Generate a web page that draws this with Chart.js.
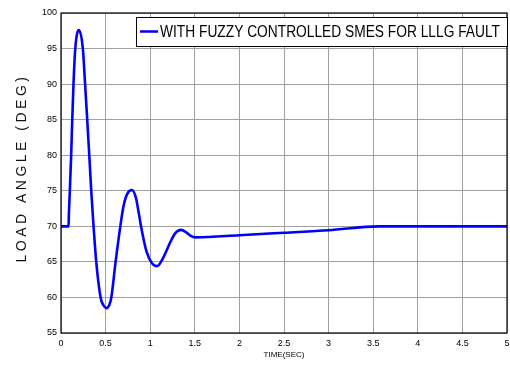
<!DOCTYPE html>
<html>
<head>
<meta charset="utf-8">
<script src="https://cdn.jsdelivr.net/npm/chart.js@4"></script>
<style>
  html, body { margin: 0; padding: 0; background: #fff; }
  #wrap { width: 510px; height: 365px; }
</style>
</head>
<body>
<div id="wrap"><canvas id="grafica-angulo"></canvas></div>
<script>
// valores
var tiempo = [0, 0.085, 0.088, 0.099, 0.114, 0.126, 0.14, 0.16, 0.20, 0.245, 0.27, 0.294, 0.317, 0.339, 0.365, 0.395, 0.444, 0.475, 0.508, 0.54, 0.564, 0.612, 0.665, 0.70, 0.74, 0.795, 0.84, 0.87, 0.90, 0.96, 1.02, 1.077, 1.13, 1.18, 1.23, 1.28, 1.343, 1.40, 1.45, 1.51, 2.0, 2.5, 3.0, 3.56, 4.0, 4.5, 5.0];
var angulo = [70, 70, 71.5, 75, 80, 85, 90, 95, 97.6, 95, 90, 85, 80, 75, 70, 65, 60, 58.9, 58.5, 58.9, 60, 65, 70, 72.8, 74.5, 75.1, 74, 72, 69.8, 66.4, 64.8, 64.4, 65.2, 66.5, 67.9, 69.0, 69.5, 69.2, 68.7, 68.45, 68.75, 69.1, 69.45, 70.0, 70, 70, 70];
var etiquetaSerie = "WITH FUZZY CONTROLLED SMES FOR LLLG FAULT";
var tituloY = "LOAD ANGLE (DEG)";
var tituloX = "TIME(SEC)";
var ticksX = [0, 0.5, 1, 1.5, 2, 2.5, 3, 3.5, 4, 4.5, 5];
var ticksY = [55, 60, 65, 70, 75, 80, 85, 90, 95, 100];

var fuenteAngosta = "'Liberation Sans Narrow', 'Arial Narrow', 'Liberation Sans', Arial, sans-serif";

var puntos = tiempo.map(function (t, i) { return { x: t, y: angulo[i] }; });

// marco, titulo Y y leyenda dibujados a mano
var extras = {
  id: "extras",
  afterDraw: function (chart) {
    var ctx = chart.ctx, a = chart.chartArea;
    ctx.save();
    ctx.strokeStyle = "#000";
    ctx.lineWidth = 1.2;
    ctx.strokeRect(a.left, a.top, a.right - a.left, a.bottom - a.top);

    // titulo del eje Y con letras espaciadas
    ctx.translate(22, (a.top + a.bottom) / 2 - 5);
    ctx.rotate(-Math.PI / 2);
    ctx.font = "14px 'Liberation Sans', Arial, sans-serif";
    ctx.letterSpacing = "3.5px";
    ctx.fillStyle = "#111";
    ctx.textAlign = "center";
    ctx.textBaseline = "middle";
    ctx.fillText(tituloY, 0, 0);
    ctx.restore();

    // leyenda
    ctx.save();
    var lx = 136, ly = 17, lw = 371, lh = 29;
    ctx.fillStyle = "#fff";
    ctx.fillRect(lx, ly, lw, lh);
    ctx.strokeStyle = "#000";
    ctx.lineWidth = 1;
    ctx.strokeRect(lx + 0.5, ly + 0.5, lw, lh);
    ctx.strokeStyle = "#0000ff";
    ctx.lineWidth = 2.5;
    ctx.beginPath();
    ctx.moveTo(lx + 4, ly + lh / 2);
    ctx.lineTo(lx + 22, ly + lh / 2);
    ctx.stroke();
    ctx.fillStyle = "#000";
    ctx.font = "16px " + fuenteAngosta;
    ctx.textBaseline = "middle";
    ctx.fillText(chart.data.datasets[0].label, lx + 24, ly + lh / 2 + 1, 340);
    ctx.restore();
  }
};

var contexto = document.getElementById("grafica-angulo");
var grafica = new Chart(contexto, {
  type: "line",
  data: {
    datasets: [{
      label: etiquetaSerie,
      data: puntos,
      borderColor: "#0000ff",
      backgroundColor: "#0000ff",
      borderWidth: 2.6,
      pointRadius: 0,
      cubicInterpolationMode: "monotone",
      fill: false
    }]
  },
  options: {
    responsive: true,
    maintainAspectRatio: false,
    animation: false,
    layout: { padding: { top: 13, right: 0, left: 0, bottom: 5 } },
    plugins: {
      legend: { display: false },
      tooltip: { enabled: false }
    },
    scales: {
      x: {
        type: "linear",
        min: 0,
        max: 5,
        afterBuildTicks: function (s) { s.ticks = ticksX.map(function (v) { return { value: v }; }); },
        afterFit: function (s) { s.height = 27; s.paddingRight = 3; },
        grid: { color: "#a0a0a0", lineWidth: 1, drawTicks: false },
        border: { display: false },
        ticks: {
          padding: 5,
          color: "#000",
          font: { size: 9, family: fuenteAngosta },
          maxRotation: 0,
          callback: function (v) { return String(v); }
        },
        title: {
          display: true,
          text: tituloX,
          color: "#000",
          font: { size: 8, family: fuenteAngosta },
          padding: { top: 0, bottom: 0 }
        }
      },
      y: {
        min: 55,
        max: 100,
        afterBuildTicks: function (s) { s.ticks = ticksY.map(function (v) { return { value: v }; }); },
        afterFit: function (s) { s.width = 61; },
        grid: { color: "#a0a0a0", lineWidth: 1, drawTicks: false },
        border: { display: false },
        ticks: {
          padding: 4,
          color: "#000",
          font: { size: 9, family: fuenteAngosta }
        }
      }
    }
  },
  plugins: [extras]
});
</script>
</body>
</html>
